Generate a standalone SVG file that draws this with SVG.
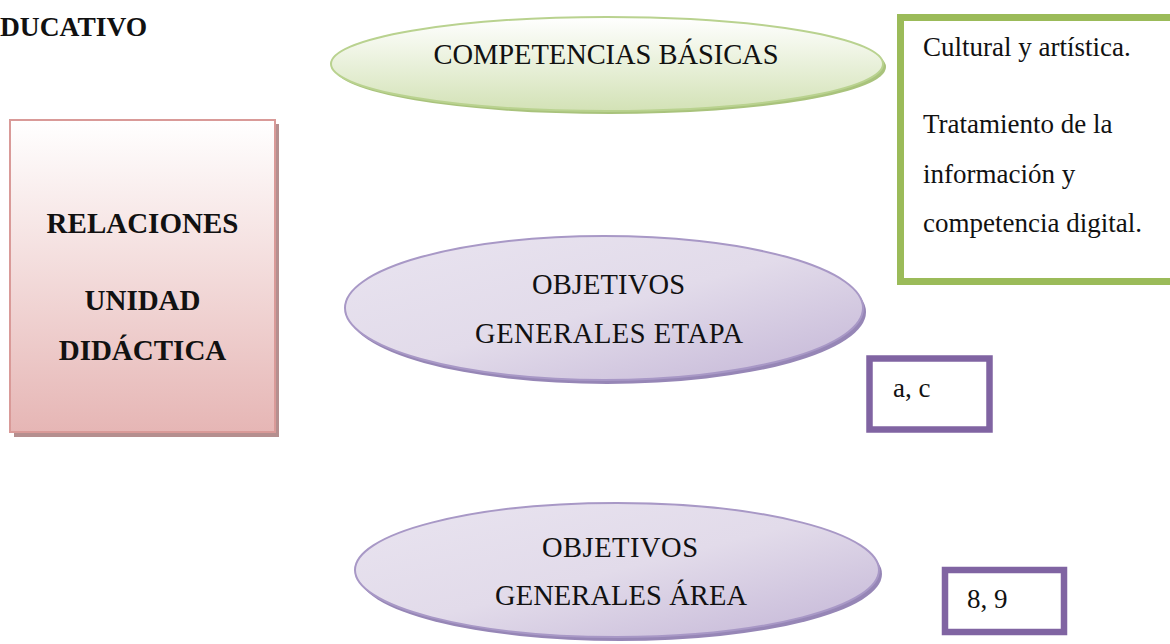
<svg xmlns="http://www.w3.org/2000/svg" width="1170" height="644" viewBox="0 0 1170 644">
  <defs>
    <linearGradient id="gGreen" x1="0" y1="0" x2="0" y2="1">
      <stop offset="0" stop-color="#ffffff"/>
      <stop offset="1" stop-color="#d3e2b6"/>
    </linearGradient>
    <linearGradient id="gPurple" x1="0" y1="0" x2="1" y2="1">
      <stop offset="0" stop-color="#e9e4f0"/>
      <stop offset="0.5" stop-color="#e2dbea"/>
      <stop offset="1" stop-color="#c3b5d6"/>
    </linearGradient>
    <linearGradient id="gPink" x1="0" y1="0" x2="0" y2="1">
      <stop offset="0" stop-color="#ffffff"/>
      <stop offset="1" stop-color="#e6b6b5"/>
    </linearGradient>
    <style>
      .serif { font-family: "Liberation Serif", "Times New Roman", serif; fill: #111; }
      .reg { font-size: 27px; }
      .caps { font-size: 28.5px; }
      .bold { font-size: 29px; font-weight: bold; }
      .mid { text-anchor: middle; }
      .box-green { fill: #ffffff; stroke: #9bbb59; stroke-width: 7; }
      .box-purple { fill: #ffffff; stroke: #8064a2; stroke-width: 6.5; }
      .ell-green { fill: url(#gGreen); stroke: #b9d28f; stroke-width: 2; }
      .shadow-green { fill: #a9c37c; }
      .ell-purple { fill: url(#gPurple); stroke: #a898c6; stroke-width: 2; }
      .shadow-purple { fill: #9686b6; }
      .rect-pink { fill: url(#gPink); stroke: #d99a98; stroke-width: 2; }
      .shadow-pink { fill: #b58f8f; }
    </style>
  </defs>

  <rect width="1170" height="644" fill="#ffffff"/>

  <g id="title">
    <text class="serif bold" x="0" y="36" style="font-size:27.5px">DUCATIVO</text>
  </g>

  <g id="connectors"></g>

  <g id="relaciones">
    <rect class="shadow-pink" x="14" y="124" width="265" height="313"/>
    <rect class="rect-pink" x="10" y="120" width="265" height="312"/>
    <text class="serif bold mid" x="142.5" y="233">RELACIONES</text>
    <text class="serif bold mid" x="142.5" y="310">UNIDAD</text>
    <text class="serif bold mid" x="142.5" y="360">DIDÁCTICA</text>
  </g>

  <g id="competencias">
    <ellipse class="shadow-green" cx="610" cy="67" rx="276" ry="47"/>
    <ellipse class="ell-green" cx="607" cy="64" rx="276" ry="47"/>
    <text class="serif caps mid" x="606" y="64" textLength="345">COMPETENCIAS BÁSICAS</text>
  </g>

  <g id="competencias-lista">
    <rect class="box-green" x="900.5" y="17.5" width="290" height="264"/>
    <text class="serif reg" x="923" y="56">Cultural y artística.</text>
    <text class="serif reg" x="923" y="133">Tratamiento de la</text>
    <text class="serif reg" x="923" y="183">información y</text>
    <text class="serif reg" x="923" y="232">competencia digital.</text>
  </g>

  <g id="objetivos-etapa">
    <ellipse class="shadow-purple" cx="607" cy="312" rx="259" ry="72"/>
    <ellipse class="ell-purple" cx="604" cy="308" rx="259" ry="72"/>
    <text class="serif caps mid" x="608.5" y="294" textLength="153">OBJETIVOS</text>
    <text class="serif caps mid" x="609" y="343" textLength="268">GENERALES ETAPA</text>
  </g>

  <g id="etapa-valores">
    <rect class="box-purple" x="869.5" y="358.5" width="120" height="71"/>
    <text class="serif reg" x="893" y="397">a, c</text>
  </g>

  <g id="objetivos-area">
    <ellipse class="shadow-purple" cx="620" cy="574" rx="262" ry="67"/>
    <ellipse class="ell-purple" cx="617" cy="570" rx="262" ry="67"/>
    <text class="serif caps mid" x="620" y="557" textLength="156">OBJETIVOS</text>
    <text class="serif caps mid" x="621" y="605" textLength="252">GENERALES ÁREA</text>
  </g>

  <g id="area-valores">
    <rect class="box-purple" x="945" y="570" width="119" height="62"/>
    <text class="serif reg" x="967" y="608">8, 9</text>
  </g>
</svg>
